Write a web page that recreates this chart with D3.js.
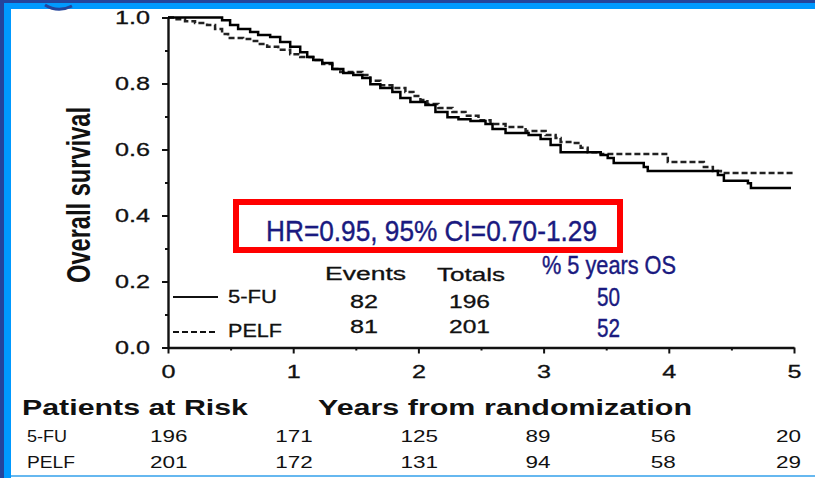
<!DOCTYPE html>
<html><head><meta charset="utf-8">
<script src="https://cdn.jsdelivr.net/npm/d3@7"></script>
<style>html,body{margin:0;padding:0;background:#fff;}svg{display:block;}</style>
</head><body>
<svg id="chart" width="815" height="478"></svg>
<script>
// ---------- data ----------
const years = [0, 1, 2, 3, 4, 5];
const yTicks = [0, 0.2, 0.4, 0.6, 0.8, 1.0];
const groups = ["5-FU", "PELF"];
const events = [82, 81];
const totals = [196, 201];
const os5 = [50, 52];
const atRiskFU = [196, 171, 125, 89, 56, 20];
const atRiskPELF = [201, 172, 131, 94, 58, 29];
const hrText = "HR=0.95, 95% CI=0.70-1.29";
// Kaplan-Meier step points [years, survival]
const fuCurve = [[0,1],[0.432,0.992],[0.496,0.977],[0.56,0.965],[0.656,0.956],[0.72,0.947],[0.816,0.941],[0.896,0.926],[0.976,0.911],[1.056,0.895],[1.112,0.880],[1.16,0.871],[1.232,0.862],[1.312,0.844],[1.40,0.832],[1.48,0.826],[1.552,0.817],[1.616,0.798],[1.696,0.786],[1.792,0.774],[1.856,0.756],[1.936,0.744],[2.056,0.735],[2.136,0.714],[2.232,0.698],[2.32,0.692],[2.416,0.686],[2.536,0.677],[2.592,0.662],[2.696,0.650],[2.88,0.644],[2.976,0.632],[3.056,0.614],[3.136,0.592],[3.456,0.583],[3.512,0.574],[3.56,0.559],[3.8,0.547],[3.832,0.535],[4.392,0.523],[4.44,0.505],[4.632,0.498],[4.656,0.483],[4.976,0.483]];
const pelfCurve = [[0,1],[0.056,0.995],[0.136,0.989],[0.216,0.983],[0.312,0.977],[0.376,0.965],[0.432,0.950],[0.48,0.938],[0.60,0.935],[0.656,0.929],[0.712,0.920],[0.792,0.911],[0.88,0.902],[0.976,0.889],[1.056,0.880],[1.16,0.871],[1.232,0.859],[1.312,0.844],[1.376,0.835],[1.552,0.826],[1.616,0.808],[1.696,0.795],[1.792,0.786],[1.896,0.774],[1.96,0.762],[2.016,0.750],[2.072,0.738],[2.16,0.726],[2.272,0.714],[2.376,0.702],[2.48,0.689],[2.576,0.677],[2.696,0.668],[2.856,0.656],[3.016,0.644],[3.096,0.635],[3.136,0.623],[3.232,0.620],[3.296,0.605],[3.352,0.592],[3.456,0.586],[3.992,0.562],[4.28,0.547],[4.352,0.535],[4.416,0.529],[5.0,0.529]];

// ---------- setup ----------
const svg = d3.select("#chart");
const SANS = "'Liberation Sans', Arial, Helvetica, sans-serif";
const NARROW = "'Liberation Sans', Arial, sans-serif";
const NAVY = "#1a1a80";

// frame
svg.append("rect").attr("x",0).attr("y",0).attr("width",815).attr("height",478).attr("fill","#fff");
svg.append("rect").attr("x",0).attr("y",0).attr("width",815).attr("height",3).attr("fill","#24449c");
svg.append("rect").attr("x",0).attr("y",0).attr("width",4).attr("height",478).attr("fill","#24449c");
svg.append("rect").attr("x",4).attr("y",3).attr("width",811).attr("height",6).attr("fill","#0099ff");
svg.append("rect").attr("x",4).attr("y",3).attr("width",7).attr("height",475).attr("fill","#0099ff");
svg.append("rect").attr("x",11).attr("y",475).attr("width",804).attr("height",2).attr("fill","#66b8f0");
svg.append("path").attr("d","M45,5 Q58,13 72,6").attr("fill","none").attr("stroke","#24449c").attr("stroke-width",3);

const x = d3.scaleLinear().domain([0,5]).range([168,794]);
const y = d3.scaleLinear().domain([0,1]).range([347.5,17.5]);

function txt(px, py, s, o) {
  const t = svg.append("text").attr("x",px).attr("y",py).text(s)
    .attr("font-family", o.family || SANS)
    .attr("font-size", o.size)
    .attr("font-weight", o.weight || "normal")
    .attr("fill", o.fill || "#111")
    .attr("text-anchor", o.anchor || "start");
  if (o.width) t.attr("textLength", o.width).attr("lengthAdjust","spacingAndGlyphs");
  if (o.stroke) t.attr("stroke", o.fill || "#111").attr("stroke-width", o.stroke);
  return t;
}

// ---------- axes ----------
const yAxis = svg.append("g").attr("transform",`translate(${x(0)},0)`)
  .call(d3.axisLeft(y).tickValues(yTicks).tickFormat(d3.format(".1f")).tickSize(6).tickSizeOuter(0).tickPadding(12));
const yMinor = svg.append("g").attr("transform",`translate(${x(0)},0)`)
  .call(d3.axisLeft(y).tickValues([0.1,0.3,0.5,0.7,0.9]).tickFormat("").tickSize(3).tickSizeOuter(0));
const xAxis = svg.append("g").attr("transform",`translate(0,${y(0)})`)
  .call(d3.axisBottom(x).tickValues(years).tickFormat(d3.format("d")).tickSize(6).tickSizeOuter(0).tickPadding(12));
const xMinor = svg.append("g").attr("transform",`translate(0,${y(0)})`)
  .call(d3.axisBottom(x).tickValues([0.5,1.5,2.5,3.5,4.5]).tickFormat("").tickSize(3).tickSizeOuter(0));
[yAxis,yMinor,xAxis,xMinor].forEach(g=>{
  g.selectAll("path,line").attr("stroke","#111").attr("stroke-width",2);
  g.select(".domain").attr("stroke-width",2.4);
});
yMinor.select(".domain").remove(); xMinor.select(".domain").remove();
yAxis.selectAll("text").attr("font-family",SANS).attr("font-size",18).attr("fill","#111")
  .attr("stroke","#111").attr("stroke-width",0.3)
  .attr("textLength",35).attr("lengthAdjust","spacingAndGlyphs");
xAxis.selectAll("text").attr("font-family",SANS).attr("font-size",18).attr("fill","#111")
  .attr("stroke","#111").attr("stroke-width",0.3)
  .attr("textLength",14).attr("lengthAdjust","spacingAndGlyphs");

// y title
svg.append("text").text("Overall survival")
  .attr("transform","translate(90,195) scale(1.4,1) rotate(-90)")
  .attr("text-anchor","middle").attr("font-family",SANS).attr("font-weight","bold")
  .attr("font-size",23.5).attr("fill","#111")
  .attr("textLength",176).attr("lengthAdjust","spacingAndGlyphs");

// ---------- curves ----------
const line = d3.line().x(d=>x(d[0])).y(d=>y(d[1])).curve(d3.curveStepAfter);
svg.append("path").datum(pelfCurve).attr("d",line).attr("fill","none")
  .attr("stroke","#222").attr("stroke-width",2.5).attr("stroke-dasharray","6,3");
svg.append("path").datum(fuCurve).attr("d",line).attr("fill","none")
  .attr("stroke","#000").attr("stroke-width",2.5);

// ---------- HR box ----------
svg.append("rect").attr("x",236).attr("y",202).attr("width",384).attr("height",48)
  .attr("fill","#fff").attr("stroke","#ff0000").attr("stroke-width",6);
txt(266, 241, hrText, {size:30, family:NARROW, fill:NAVY, width:331, stroke:0.4});

// ---------- legend table ----------
txt(325, 280, "Events", {size:18, width:81, stroke:0.3});
txt(437, 281, "Totals", {size:18, width:68, stroke:0.3});
txt(542, 274, "% 5 years OS", {size:25, family:NARROW, fill:NAVY, width:134, stroke:0.4});
const rowY = [308, 333];
const legLineY = [297, 332];
groups.forEach((g,i)=>{
  svg.append("line").attr("x1",173).attr("x2",218).attr("y1",legLineY[i]).attr("y2",legLineY[i])
    .attr("stroke","#111").attr("stroke-width",2)
    .attr("stroke-dasharray", i===1 ? "6,3" : null);
  txt(228, i===0?303:337, g, {size:18, width: i===0?49:54, stroke:0.3});
  txt(364, rowY[i], events[i], {size:18, anchor:"middle", width:28, stroke:0.3});
  txt(469.5, rowY[i], totals[i], {size:18, anchor:"middle", width:41, stroke:0.3});
  txt(608.5, i===0?306:337, os5[i], {size:25, family:NARROW, fill:NAVY, anchor:"middle", width:23, stroke:0.4});
});

// ---------- patients at risk ----------
txt(22, 415, "Patients at Risk", {size:22, weight:"bold", width:226});
txt(318, 415, "Years from randomization", {size:22, weight:"bold", width:374});
const riskRows = [atRiskFU, atRiskPELF];
const riskY = [442, 468];
groups.forEach((g,i)=>{
  txt(27, riskY[i], g, {size:16.5, width: i===0?40:48});
  riskRows[i].forEach((v,j)=>{
    txt(x(years[j]) - 18, riskY[i], v, {size:16.5, width: String(v).length*12.5});
  });
});
</script>
</body></html>
